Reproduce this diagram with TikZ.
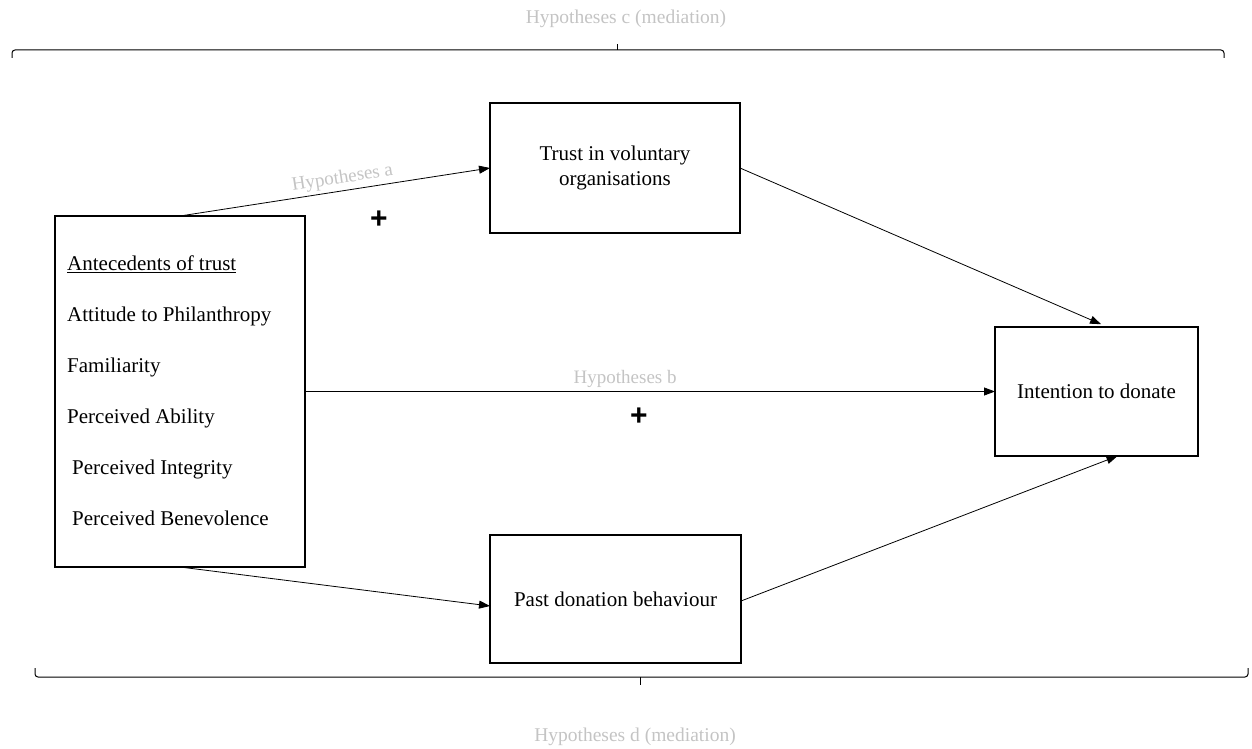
\documentclass[tikz,border=0pt]{standalone}
\usepackage{fontspec}
\setmainfont{Liberation Serif}
\newfontfamily\plusfont{Liberation Sans}
\usetikzlibrary{arrows.meta}
\definecolor{hypgray}{HTML}{C4C4C4}
\tikzset{
  box/.style={draw=black, line width=1.3pt, inner sep=0pt, outer sep=0pt, align=center, font=\fontsize{21}{25}\selectfont},
  conn/.style={line width=0.8pt, -{Triangle[length=11pt,width=8pt]}},
  hyp/.style={text=hypgray, inner sep=1pt, font=\fontsize{19}{22}\selectfont},
  plus/.style={font=\plusfont\bfseries\fontsize{30}{30}\selectfont},
  brace/.style={line width=1pt, rounded corners=3pt}
}
\begin{document}
\begin{tikzpicture}[x=1pt,y=-1pt]
\useasboundingbox (0,0) rectangle (1252,749);
% boxes
\node[box, minimum width=250pt, minimum height=351pt] (ante) at (180,391.5) {};
\node[anchor=west, align=left, inner sep=0pt, font=\fontsize{21}{51}\selectfont] (antetext) at (67,391) {\underline{Antecedents of trust}\\Attitude to Philanthropy\\Familiarity\\Perceived Ability\\\hspace*{5pt}Perceived Integrity\\\hspace*{5pt}Perceived Benevolence};
\node[box, minimum width=250pt, minimum height=130pt] (trust) at (615,168) {Trust in voluntary\\organisations};
\node[box, minimum width=203pt, minimum height=129pt] (int) at (1096.5,391.5) {Intention to donate};
\node[box, minimum width=251pt, minimum height=128pt] (past) at (615.5,599) {Past donation behaviour};
% connectors
\draw[conn] (ante.north) -- node[hyp, pos=0.53, above=2pt, sloped] (ha) {Hypotheses a} (trust.west);
\draw[conn] (ante.east) -- node[hyp, pos=0.464, above=3pt] (hb) {Hypotheses b} (int.west);
\draw[conn] (ante.south) -- ([yshift=-7pt]past.west);
\draw[conn, shorten >=7pt] (trust.east) -- ([xshift=11pt]int.north);
\draw[conn] ([yshift=-2pt]past.east) -- ([xshift=21pt]int.south);
\node[plus] (plusa) at (379,220) {+};
\node[plus] (plusb) at (639,417) {+};
% braces
\draw[brace] (12,58) -- (12,50) -- (1224,50) -- (1224,58);
\draw[line width=0.8pt] (617,50) -- (617,44);
\draw[brace] (35,668) -- (35,677) -- (1248,677) -- (1248,668);
\draw[line width=0.8pt] (640,677) -- (640,685);
\node[hyp, font=\fontsize{19.5}{22}\selectfont] (hc) at (626,19) {Hypotheses c (mediation)};
\node[hyp, font=\fontsize{19.5}{22}\selectfont] (hd) at (635,737) {Hypotheses d (mediation)};
\end{tikzpicture}
\end{document}
